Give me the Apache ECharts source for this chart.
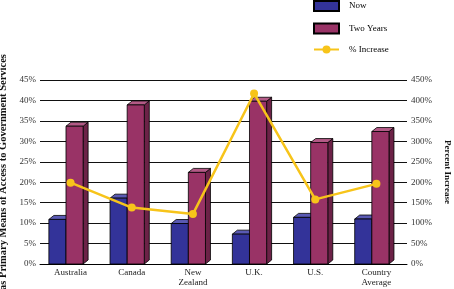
<!DOCTYPE html>
<html>
<head>
<meta charset="utf-8">
<script src="https://cdn.jsdelivr.net/npm/echarts@6/dist/echarts.min.js"></script>
<style>
  html, body { margin: 0; padding: 0; background: #fff; }
  #chart { width: 454px; height: 289px; }
</style>
</head>
<body>
<div id="chart"></div>
<script>
// data
const categories = ["Australia", "Canada", "New\nZealand", "U.K.", "U.S.", "Country\nAverage"];
const nowValues = [10.9, 16.1, 9.9, 7.3, 11.4, 11.0];
const twoYearValues = [33.7, 38.9, 22.4, 39.8, 29.7, 32.4];
const increaseValues = [199, 138, 122, 417, 158, 196];
const leftTicks = { min: 0, max: 45, interval: 5 };
const rightTicks = { min: 0, max: 450, interval: 50 };

const font = "'Liberation Serif', 'DejaVu Serif', serif";

// 3d box colours: front, top, side
const nowColors = ["#333399", "#5a5ab4", "#222270"];
const twoColors = ["#993366", "#b35a86", "#6c2247"];

// draws one 3d bar, slot = 0 (left) or 1 (right) inside a category
function make3dBar(slot, colors) {
  return function (params, api) {
    const top = api.coord([api.value(0), api.value(1)]);
    const base = api.coord([api.value(0), 0]);
    const w = api.size([1, 0])[0];
    const bw = w * 0.28;
    const x0 = top[0] - w * 0.355 + slot * bw;
    const x1 = x0 + bw;
    const y0 = top[1];
    const y1 = base[1];
    const dx = 5, dy = 4;
    const line = { stroke: "#000", lineWidth: 0.8 };
    return {
      type: "group",
      children: [
        {
          type: "polygon",
          shape: { points: [[x1, y1], [x1 + dx, y1 - dy], [x1 + dx, y0 - dy], [x1, y0]] },
          style: Object.assign({ fill: colors[2] }, line)
        },
        {
          type: "polygon",
          shape: { points: [[x0, y0], [x0 + dx, y0 - dy], [x1 + dx, y0 - dy], [x1, y0]] },
          style: Object.assign({ fill: colors[1] }, line)
        },
        {
          type: "rect",
          shape: { x: x0, y: y0, width: bw, height: y1 - y0 },
          style: Object.assign({ fill: colors[0] }, line)
        }
      ]
    };
  };
}

const chart = echarts.init(document.getElementById("chart"));
chart.setOption({
  animation: false,
  backgroundColor: "#fff",
  textStyle: { fontFamily: font },
  legend: {
    orient: "vertical",
    left: 313,
    top: 0,
    padding: 0,
    itemWidth: 25,
    itemHeight: 10,
    itemGap: 10.5,
    textStyle: { fontFamily: font, fontSize: 9, color: "#000", padding: [0, 0, 0, 5] },
    data: [
      { name: "Now", icon: "rect" },
      { name: "Two Years", icon: "rect" },
      { name: "% Increase" }
    ]
  },
  grid: { left: 40, right: 47, top: 80, bottom: 25, containLabel: false, outerBoundsMode: "none" },
  xAxis: {
    type: "category",
    data: categories,
    axisTick: { show: false },
    axisLine: { lineStyle: { color: "#000", width: 1 } },
    axisLabel: {
      fontFamily: font, fontSize: 9, color: "#222", margin: 4, lineHeight: 10, interval: 0
    }
  },
  yAxis: [
    {
      type: "value",
      min: leftTicks.min, max: leftTicks.max, interval: leftTicks.interval,
      name: "as Primary Means of Access to Government Services",
      nameLocation: "middle",
      nameGap: 30,
      nameTextStyle: { fontFamily: font, fontSize: 10.5, fontWeight: "bold", color: "#111" },
      axisLabel: { formatter: "{value}%", fontFamily: font, fontSize: 9, color: "#333", margin: 4 },
      axisLine: { show: false },
      axisTick: { show: false },
      splitLine: { lineStyle: { color: "#111", width: 1 } }
    },
    {
      type: "value",
      position: "right",
      min: rightTicks.min, max: rightTicks.max, interval: rightTicks.interval,
      name: "Percent Increase",
      nameLocation: "middle",
      nameRotate: -90,
      nameGap: 31,
      nameTextStyle: { fontFamily: font, fontSize: 9, fontWeight: "bold", color: "#111" },
      axisLabel: { formatter: "{value}%", fontFamily: font, fontSize: 9, color: "#333", margin: 4 },
      axisLine: { show: false },
      axisTick: { show: false },
      splitLine: { show: false }
    }
  ],
  series: [
    {
      name: "Now",
      type: "custom",
      renderItem: make3dBar(0, nowColors),
      itemStyle: { color: nowColors[0], borderColor: "#000", borderWidth: 0.8 },
      encode: { x: 0, y: 1 },
      data: nowValues.map((v, i) => [i, v]),
      z: 2
    },
    {
      name: "Two Years",
      type: "custom",
      renderItem: make3dBar(1, twoColors),
      itemStyle: { color: twoColors[0], borderColor: "#000", borderWidth: 0.8 },
      encode: { x: 0, y: 1 },
      data: twoYearValues.map((v, i) => [i, v]),
      z: 3
    },
    {
      name: "% Increase",
      type: "line",
      yAxisIndex: 1,
      data: increaseValues,
      symbol: "circle",
      symbolSize: 8,
      lineStyle: { color: "#f7c41a", width: 2.5 },
      itemStyle: { color: "#f7c41a" },
      z: 5
    }
  ]
});
</script>
</body>
</html>
